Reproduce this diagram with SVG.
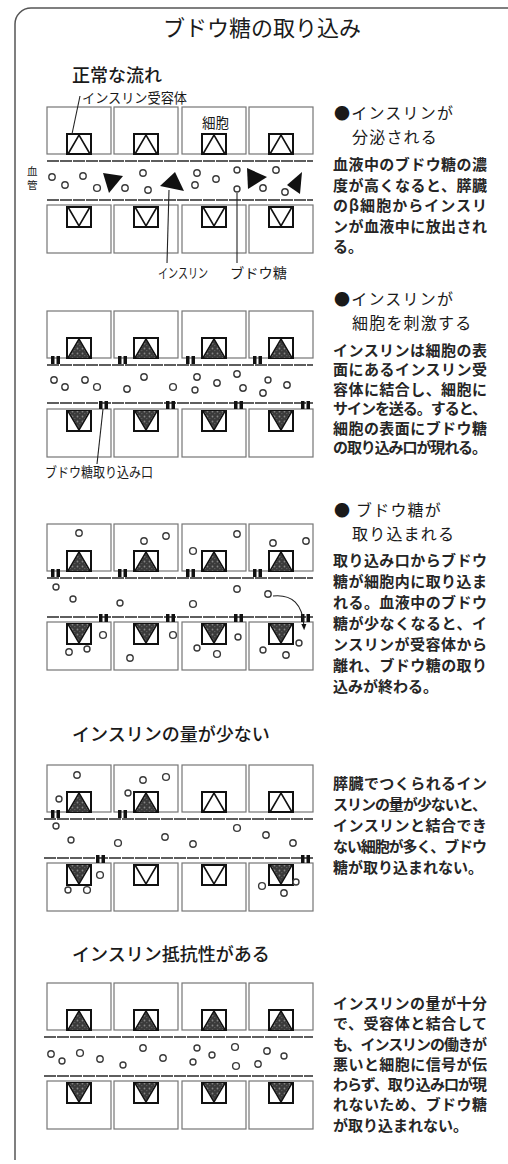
<svg xmlns="http://www.w3.org/2000/svg" width="508" height="1164" viewBox="0 0 508 1164">
  <style>
    text { font-family: "Noto Sans CJK JP", "Noto Sans", sans-serif; fill: #1a1a1a; }
    .title { font-size: 22px; }
    .sect { font-size: 18px; font-weight: 500; }
    .head { font-size: 16px; letter-spacing: 1.2px; }
    .body { font-size: 15px; font-weight: bold; fill: #262626; }
    .lbl { font-size: 13.5px; }
    .cell { fill: none; stroke: #767676; stroke-width: 1.2; }
    .wall { stroke: #5e5e5e; stroke-width: 2; stroke-dasharray: 12 1; }
    .glc { fill: #fff; stroke: #3a3a3a; stroke-width: 1.4; }
    .ins { fill: #111; }
    .lead { stroke: #222; stroke-width: 1.1; fill: none; }
    .frame { fill: none; stroke: #555; stroke-width: 1.5; }
  </style>
  <defs>
    <pattern id="mottle" width="5" height="5" patternUnits="userSpaceOnUse">
      <rect width="5" height="5" fill="#3a3a3a"/>
      <circle cx="1.5" cy="1.5" r="0.9" fill="#858585"/>
      <circle cx="3.8" cy="3.6" r="0.7" fill="#666"/>
    </pattern>
    <!-- receptor facing the vessel from a cell above -->
    <g id="recUp">
      <rect x="1" y="1" width="24" height="20" fill="#fff" stroke="#111" stroke-width="2"/>
      <polyline points="2,21 13,2 24,21" fill="none" stroke="#111" stroke-width="1.6"/>
    </g>
    <g id="recUpBound">
      <rect x="1" y="1" width="24" height="20" fill="#fff" stroke="#111" stroke-width="2"/>
      <polygon points="13,3 3,21 23,21" fill="url(#mottle)"/>
      <polyline points="2,21 13,2 24,21" fill="none" stroke="#111" stroke-width="1.6"/>
    </g>
    <!-- receptor facing the vessel from a cell below -->
    <g id="recDown">
      <rect x="1" y="1" width="24" height="20" fill="#fff" stroke="#111" stroke-width="2"/>
      <polyline points="2,1 13,20 24,1" fill="none" stroke="#111" stroke-width="1.6"/>
    </g>
    <g id="recDownBound">
      <rect x="1" y="1" width="24" height="20" fill="#fff" stroke="#111" stroke-width="2"/>
      <polygon points="3,1 23,1 13,19" fill="url(#mottle)"/>
      <polyline points="2,1 13,20 24,1" fill="none" stroke="#111" stroke-width="1.6"/>
    </g>
    <!-- glucose gate -->
    <g id="gate" fill="#111">
      <rect width="3.5" height="8"/>
      <rect x="5.5" width="3.5" height="8"/>
    </g>
    <marker id="arrow" viewBox="0 0 10 10" refX="5" refY="5" markerWidth="6" markerHeight="6" orient="auto">
      <path d="M0,1 L10,5 L0,9 Z" fill="#111"/>
    </marker>
  </defs>

  <rect width="508" height="1164" fill="#fff"/>
  <path class="frame" d="M15,1160 V24 A16,16 0 0 1 31,8 H508"/>

  <text class="title" x="262" y="36" text-anchor="middle">ブドウ糖の取り込み</text>

  <!-- ===== Normal flow: insulin secretion ===== -->
  <g id="panel-normal">
    <text class="sect" x="72" y="82">正常な流れ</text>
    <g id="p1-cells">
      <rect class="cell" x="47" y="107" width="64" height="47"/>
      <rect class="cell" x="114" y="107" width="64" height="47"/>
      <rect class="cell" x="182" y="107" width="64" height="47"/>
      <rect class="cell" x="249" y="107" width="64" height="47"/>
      <rect class="cell" x="47" y="205" width="64" height="48"/>
      <rect class="cell" x="114" y="205" width="64" height="48"/>
      <rect class="cell" x="182" y="205" width="64" height="48"/>
      <rect class="cell" x="249" y="205" width="64" height="48"/>
      <line class="wall" x1="47" y1="161" x2="313" y2="161"/>
      <line class="wall" x1="47" y1="200" x2="313" y2="200"/>
    </g>
    <g id="p1-receptors">
      <use href="#recUp" x="66" y="133"/>
      <use href="#recUp" x="133" y="133"/>
      <use href="#recUp" x="201" y="133"/>
      <use href="#recUp" x="268" y="133"/>
      <use href="#recDown" x="66" y="206"/>
      <use href="#recDown" x="133" y="206"/>
      <use href="#recDown" x="201" y="206"/>
      <use href="#recDown" x="268" y="206"/>
    </g>
    <g id="p1-insulin">
      <polygon class="ins" points="103,173 123,176 109,193"/>
      <polygon class="ins" points="160,186 175,172 184,191"/>
      <polygon class="ins" points="247,168 267,177 248,189"/>
      <polygon class="ins" points="302,172 287,185 300,194"/>
    </g>
    <g id="p1-glucose">
      <circle class="glc" cx="52" cy="177" r="3.2"/>
      <circle class="glc" cx="65" cy="185" r="3.2"/>
      <circle class="glc" cx="83" cy="176" r="3.2"/>
      <circle class="glc" cx="97" cy="188" r="3.4"/>
      <circle class="glc" cx="125" cy="188" r="3.2"/>
      <circle class="glc" cx="143" cy="173" r="3.2"/>
      <circle class="glc" cx="148" cy="190" r="3.2"/>
      <circle class="glc" cx="197" cy="173" r="3.2"/>
      <circle class="glc" cx="195" cy="185" r="3.2"/>
      <circle class="glc" cx="216" cy="179" r="3.2"/>
      <circle class="glc" cx="237" cy="170" r="3"/>
      <circle class="glc" cx="237" cy="189" r="3"/>
      <circle class="glc" cx="276" cy="170" r="3.2"/>
      <circle class="glc" cx="263" cy="188" r="3.2"/>
      <circle class="glc" cx="285" cy="192" r="3.2"/>
    </g>
    <g id="p1-labels">
      <path class="lead" d="M80,96 L72,134"/>
      <text class="lbl" x="82" y="103" textLength="105" lengthAdjust="spacingAndGlyphs">インスリン受容体</text>
      <text class="lbl" x="202" y="128">細胞</text>
      <text x="27" y="175" style="font-size:10.5px">血</text>
      <text x="27" y="189" style="font-size:10.5px">管</text>
      <path class="lead" d="M169,190 L167,263"/>
      <path class="lead" d="M237,193 L237,263"/>
      <text class="lbl" x="158" y="278" textLength="50" lengthAdjust="spacingAndGlyphs">インスリン</text>
      <text class="lbl" x="230" y="278" textLength="57" lengthAdjust="spacingAndGlyphs">ブドウ糖</text>
    </g>
    <g id="p1-text">
      <text class="head" x="334" y="119">●インスリンが</text>
      <text class="head" x="352" y="142.5">分泌される</text>
      <text class="body" x="333" y="170" textLength="154">血液中のブドウ糖の濃</text>
      <text class="body" x="333" y="190.5" textLength="154">度が高くなると、膵臓</text>
      <text class="body" x="333" y="211" textLength="154">のβ細胞からインスリ</text>
      <text class="body" x="333" y="231.5" textLength="154">ンが血液中に放出され</text>
      <text class="body" x="333" y="252">る。</text>
    </g>
  </g>

  <!-- ===== Insulin stimulates the cells ===== -->
  <g id="panel-stimulate">
    <g id="p2-cells">
      <rect class="cell" x="47" y="311" width="64" height="47"/>
      <rect class="cell" x="114" y="311" width="64" height="47"/>
      <rect class="cell" x="182" y="311" width="64" height="47"/>
      <rect class="cell" x="249" y="311" width="64" height="47"/>
      <rect class="cell" x="47" y="409" width="64" height="48"/>
      <rect class="cell" x="114" y="409" width="64" height="48"/>
      <rect class="cell" x="182" y="409" width="64" height="48"/>
      <rect class="cell" x="249" y="409" width="64" height="48"/>
      <line class="wall" x1="47" y1="365" x2="313" y2="365"/>
      <line class="wall" x1="47" y1="403" x2="313" y2="403"/>
    </g>
    <g id="p2-receptors">
      <use href="#recUpBound" x="66" y="337"/>
      <use href="#recUpBound" x="133" y="337"/>
      <use href="#recUpBound" x="201" y="337"/>
      <use href="#recUpBound" x="268" y="337"/>
      <use href="#recDownBound" x="66" y="410"/>
      <use href="#recDownBound" x="133" y="410"/>
      <use href="#recDownBound" x="201" y="410"/>
      <use href="#recDownBound" x="268" y="410"/>
    </g>
    <g id="p2-gates">
      <use href="#gate" x="51" y="356"/>
      <use href="#gate" x="118" y="356"/>
      <use href="#gate" x="186" y="356"/>
      <use href="#gate" x="253" y="356"/>
      <use href="#gate" x="99" y="401"/>
      <use href="#gate" x="166" y="401"/>
      <use href="#gate" x="234" y="401"/>
      <use href="#gate" x="301" y="401"/>
    </g>
    <g id="p2-glucose">
      <circle class="glc" cx="54" cy="380" r="3.2"/>
      <circle class="glc" cx="65" cy="387" r="3.2"/>
      <circle class="glc" cx="85" cy="380" r="3.2"/>
      <circle class="glc" cx="97" cy="387" r="3.4"/>
      <circle class="glc" cx="127" cy="389" r="3.2"/>
      <circle class="glc" cx="144" cy="377" r="3.2"/>
      <circle class="glc" cx="173" cy="387" r="3.4"/>
      <circle class="glc" cx="197" cy="377" r="3.2"/>
      <circle class="glc" cx="195" cy="390" r="3"/>
      <circle class="glc" cx="217" cy="383" r="3.2"/>
      <circle class="glc" cx="237" cy="374" r="3.2"/>
      <circle class="glc" cx="243" cy="388" r="3.2"/>
      <circle class="glc" cx="268" cy="380" r="3"/>
      <circle class="glc" cx="263" cy="393" r="3.2"/>
      <circle class="glc" cx="287" cy="385" r="3.2"/>
    </g>
    <g id="p2-labels">
      <path class="lead" d="M103,409 L97,464"/>
      <text class="lbl" x="45" y="477" textLength="108" lengthAdjust="spacingAndGlyphs">ブドウ糖取り込み口</text>
    </g>
    <g id="p2-text">
      <text class="head" x="334" y="305">●インスリンが</text>
      <text class="head" x="352" y="328.5">細胞を刺激する</text>
      <text class="body" x="333" y="355.5" textLength="154">インスリンは細胞の表</text>
      <text class="body" x="333" y="375" textLength="154">面にあるインスリン受</text>
      <text class="body" x="333" y="394.5" textLength="154">容体に結合し、細胞に</text>
      <text class="body" x="333" y="414" textLength="154">サインを送る。すると、</text>
      <text class="body" x="333" y="433.5" textLength="154">細胞の表面にブドウ糖</text>
      <text class="body" x="333" y="453" textLength="154">の取り込み口が現れる。</text>
    </g>
  </g>

  <!-- ===== Glucose is taken in ===== -->
  <g id="panel-uptake">
    <g id="p3-cells">
      <rect class="cell" x="47" y="524" width="64" height="47"/>
      <rect class="cell" x="114" y="524" width="64" height="47"/>
      <rect class="cell" x="182" y="524" width="64" height="47"/>
      <rect class="cell" x="249" y="524" width="64" height="47"/>
      <rect class="cell" x="47" y="622" width="64" height="48"/>
      <rect class="cell" x="114" y="622" width="64" height="48"/>
      <rect class="cell" x="182" y="622" width="64" height="48"/>
      <rect class="cell" x="249" y="622" width="64" height="48"/>
      <line class="wall" x1="47" y1="578" x2="313" y2="578"/>
      <line class="wall" x1="47" y1="617" x2="313" y2="617"/>
    </g>
    <g id="p3-receptors">
      <use href="#recUpBound" x="66" y="550"/>
      <use href="#recUpBound" x="133" y="550"/>
      <use href="#recUpBound" x="201" y="550"/>
      <use href="#recUpBound" x="268" y="550"/>
      <use href="#recDownBound" x="66" y="623"/>
      <use href="#recDownBound" x="133" y="623"/>
      <use href="#recDownBound" x="201" y="623"/>
      <use href="#recDownBound" x="268" y="623"/>
    </g>
    <g id="p3-gates">
      <use href="#gate" x="51" y="569"/>
      <use href="#gate" x="118" y="569"/>
      <use href="#gate" x="186" y="569"/>
      <use href="#gate" x="253" y="569"/>
      <use href="#gate" x="99" y="614"/>
      <use href="#gate" x="166" y="614"/>
      <use href="#gate" x="234" y="614"/>
      <use href="#gate" x="301" y="614"/>
    </g>
    <g id="p3-glucose">
      <circle class="glc" cx="56" cy="587" r="3"/>
      <circle class="glc" cx="73" cy="599" r="3"/>
      <circle class="glc" cx="120" cy="603" r="3"/>
      <circle class="glc" cx="193" cy="604" r="3.4" stroke-width="2"/>
      <circle class="glc" cx="237" cy="589" r="3.2"/>
      <circle class="glc" cx="268" cy="594" r="3.2"/>
      <circle class="glc" cx="79" cy="533" r="3.2"/>
      <circle class="glc" cx="144" cy="541" r="3.2"/>
      <circle class="glc" cx="166" cy="536" r="3.2"/>
      <circle class="glc" cx="193" cy="551" r="3.4"/>
      <circle class="glc" cx="237" cy="534" r="3.2"/>
      <circle class="glc" cx="273" cy="543" r="3.2"/>
      <circle class="glc" cx="306" cy="541" r="3.2"/>
      <circle class="glc" cx="103" cy="635" r="3.4"/>
      <circle class="glc" cx="69" cy="652" r="3.2"/>
      <circle class="glc" cx="87" cy="649" r="3"/>
      <circle class="glc" cx="173" cy="635" r="3.4"/>
      <circle class="glc" cx="130" cy="658" r="3.2"/>
      <circle class="glc" cx="238" cy="637" r="3"/>
      <circle class="glc" cx="197" cy="648" r="3"/>
      <circle class="glc" cx="217" cy="654" r="3.4"/>
      <circle class="glc" cx="299" cy="643" r="3"/>
      <circle class="glc" cx="263" cy="650" r="3"/>
      <circle class="glc" cx="286" cy="655" r="3.2"/>
    </g>
    <g id="p3-connectors">
      <path class="lead" d="M273,596 C292,594 303,604 304,627" stroke-width="1.4" marker-end="url(#arrow)"/>
    </g>
    <g id="p3-text">
      <text class="head" x="334" y="516">● ブドウ糖が</text>
      <text class="head" x="352" y="539.5">取り込まれる</text>
      <text class="body" x="333" y="566" textLength="154">取り込み口からブドウ</text>
      <text class="body" x="333" y="587" textLength="154">糖が細胞内に取り込ま</text>
      <text class="body" x="333" y="608" textLength="154">れる。血液中のブドウ</text>
      <text class="body" x="333" y="629" textLength="154">糖が少なくなると、イ</text>
      <text class="body" x="333" y="650" textLength="154">ンスリンが受容体から</text>
      <text class="body" x="333" y="671" textLength="154">離れ、ブドウ糖の取り</text>
      <text class="body" x="333" y="692">込みが終わる。</text>
    </g>
  </g>

  <!-- ===== Too little insulin ===== -->
  <g id="panel-low-insulin">
    <text class="sect" x="72" y="741">インスリンの量が少ない</text>
    <g id="p4-cells">
      <rect class="cell" x="47" y="765" width="64" height="47"/>
      <rect class="cell" x="114" y="765" width="64" height="47"/>
      <rect class="cell" x="182" y="765" width="64" height="47"/>
      <rect class="cell" x="249" y="765" width="64" height="47"/>
      <rect class="cell" x="47" y="863" width="64" height="48"/>
      <rect class="cell" x="114" y="863" width="64" height="48"/>
      <rect class="cell" x="182" y="863" width="64" height="48"/>
      <rect class="cell" x="249" y="863" width="64" height="48"/>
      <line class="wall" x1="44" y1="819" x2="313" y2="819"/>
      <line class="wall" x1="44" y1="858" x2="313" y2="858"/>
    </g>
    <g id="p4-receptors">
      <use href="#recUpBound" x="66" y="791"/>
      <use href="#recUpBound" x="133" y="791"/>
      <use href="#recUp" x="201" y="791"/>
      <use href="#recUp" x="268" y="791"/>
      <use href="#recDownBound" x="66" y="864"/>
      <use href="#recDown" x="133" y="864"/>
      <use href="#recDown" x="201" y="864"/>
      <use href="#recDownBound" x="268" y="864"/>
    </g>
    <g id="p4-gates">
      <use href="#gate" x="51" y="810"/>
      <use href="#gate" x="118" y="810"/>
      <use href="#gate" x="96" y="855"/>
      <use href="#gate" x="301" y="855"/>
    </g>
    <g id="p4-glucose">
      <circle class="glc" cx="77" cy="775" r="3.2"/>
      <circle class="glc" cx="59" cy="799" r="3"/>
      <circle class="glc" cx="143" cy="780" r="3.2"/>
      <circle class="glc" cx="166" cy="777" r="3.4"/>
      <circle class="glc" cx="128" cy="793" r="3"/>
      <circle class="glc" cx="56" cy="826" r="3"/>
      <circle class="glc" cx="71" cy="840" r="3"/>
      <circle class="glc" cx="118" cy="843" r="3.4"/>
      <circle class="glc" cx="165" cy="837" r="3.2"/>
      <circle class="glc" cx="193" cy="844" r="3.2"/>
      <circle class="glc" cx="237" cy="828" r="3.4"/>
      <circle class="glc" cx="266" cy="835" r="3.2"/>
      <circle class="glc" cx="293" cy="843" r="3.2"/>
      <circle class="glc" cx="100" cy="875" r="3.4"/>
      <circle class="glc" cx="68" cy="890" r="3"/>
      <circle class="glc" cx="87" cy="890" r="3.4"/>
      <circle class="glc" cx="262" cy="886" r="3.4"/>
      <circle class="glc" cx="296" cy="882" r="3"/>
      <circle class="glc" cx="284" cy="893" r="3.2"/>
    </g>
    <g id="p4-text">
      <text class="body" x="333" y="789" textLength="154">膵臓でつくられるイン</text>
      <text class="body" x="333" y="810" textLength="154">スリンの量が少ないと、</text>
      <text class="body" x="333" y="831" textLength="154">インスリンと結合でき</text>
      <text class="body" x="333" y="852" textLength="154">ない細胞が多く、ブドウ</text>
      <text class="body" x="333" y="873">糖が取り込まれない。</text>
    </g>
  </g>

  <!-- ===== Insulin resistance ===== -->
  <g id="panel-resistance">
    <text class="sect" x="72" y="961">インスリン抵抗性がある</text>
    <g id="p5-cells">
      <rect class="cell" x="47" y="983" width="64" height="47"/>
      <rect class="cell" x="114" y="983" width="64" height="47"/>
      <rect class="cell" x="182" y="983" width="64" height="47"/>
      <rect class="cell" x="249" y="983" width="64" height="47"/>
      <rect class="cell" x="47" y="1081" width="64" height="48"/>
      <rect class="cell" x="114" y="1081" width="64" height="48"/>
      <rect class="cell" x="182" y="1081" width="64" height="48"/>
      <rect class="cell" x="249" y="1081" width="64" height="48"/>
      <line class="wall" x1="44" y1="1037" x2="313" y2="1037"/>
      <line class="wall" x1="44" y1="1076" x2="313" y2="1076"/>
    </g>
    <g id="p5-receptors">
      <use href="#recUpBound" x="66" y="1009"/>
      <use href="#recUpBound" x="133" y="1009"/>
      <use href="#recUpBound" x="201" y="1009"/>
      <use href="#recUpBound" x="268" y="1009"/>
      <use href="#recDownBound" x="66" y="1082"/>
      <use href="#recDownBound" x="133" y="1082"/>
      <use href="#recDownBound" x="201" y="1082"/>
      <use href="#recDownBound" x="268" y="1082"/>
    </g>
    <g id="p5-glucose">
      <circle class="glc" cx="51" cy="1054" r="3.2"/>
      <circle class="glc" cx="62" cy="1061" r="3"/>
      <circle class="glc" cx="80" cy="1053" r="3.4"/>
      <circle class="glc" cx="100" cy="1059" r="3.2"/>
      <circle class="glc" cx="123" cy="1065" r="3"/>
      <circle class="glc" cx="143" cy="1048" r="3.2"/>
      <circle class="glc" cx="163" cy="1058" r="3.2"/>
      <circle class="glc" cx="197" cy="1048" r="3"/>
      <circle class="glc" cx="193" cy="1062" r="3"/>
      <circle class="glc" cx="212" cy="1055" r="3"/>
      <circle class="glc" cx="235" cy="1047" r="3.4"/>
      <circle class="glc" cx="236" cy="1066" r="3.4"/>
      <circle class="glc" cx="258" cy="1064" r="3.2"/>
      <circle class="glc" cx="267" cy="1051" r="3.2"/>
      <circle class="glc" cx="284" cy="1056" r="3"/>
    </g>
    <g id="p5-text">
      <text class="body" x="333" y="1009" textLength="154">インスリンの量が十分</text>
      <text class="body" x="333" y="1029" textLength="154">で、受容体と結合して</text>
      <text class="body" x="333" y="1050" textLength="154">も、インスリンの働きが</text>
      <text class="body" x="333" y="1070" textLength="154">悪いと細胞に信号が伝</text>
      <text class="body" x="333" y="1090" textLength="154">わらず、取り込み口が現</text>
      <text class="body" x="333" y="1110" textLength="154">れないため、ブドウ糖</text>
      <text class="body" x="333" y="1131">が取り込まれない。</text>
    </g>
  </g>
</svg>
